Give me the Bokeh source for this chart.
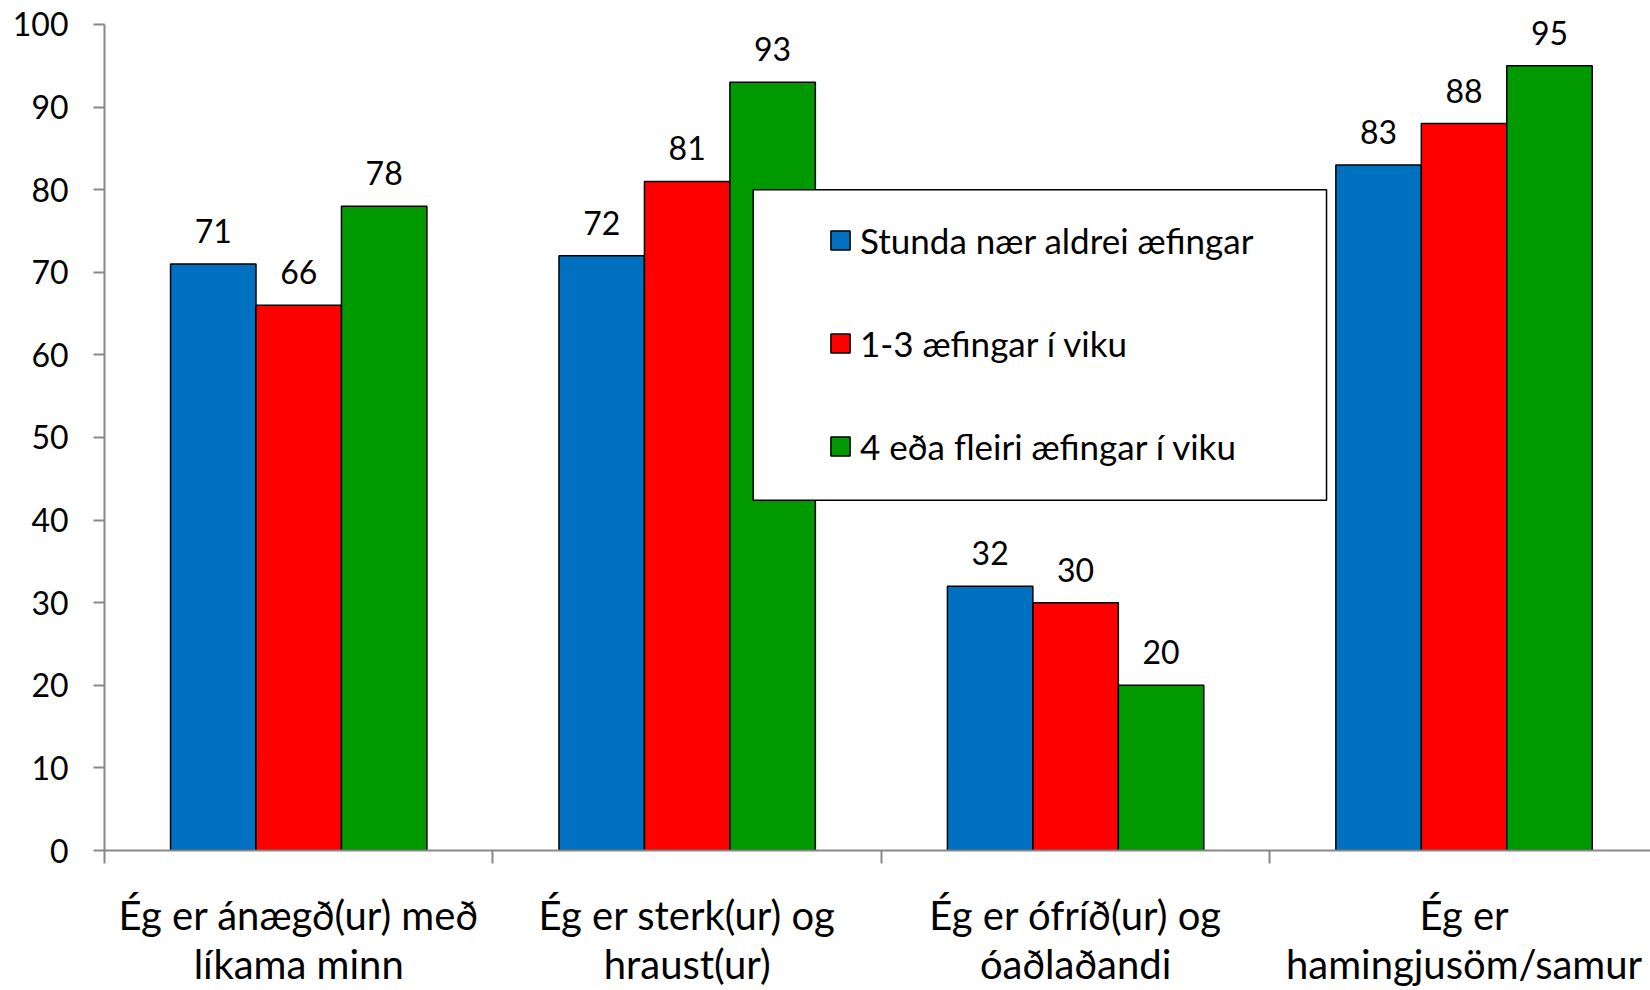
from bokeh.plotting import figure
from bokeh.models import (Range1d, LinearAxis, FixedTicker,
                          ColumnDataSource, LabelSet, Legend, LegendItem, BoxAnnotation)
from bokeh.core.properties import value
from bokeh.transform import dodge
from bokeh.embed import file_html
from bokeh.resources import INLINE

categories = ["Ég er ánægð(ur) með\nlíkama minn",
              "Ég er sterk(ur) og\nhraust(ur)",
              "Ég er ófríð(ur) og\nóaðlaðandi",
              "Ég er\nhamingjusöm/samur"]
series_names = ["Stunda nær aldrei æfingar", "1-3 æfingar í viku", "4 eða fleiri æfingar í viku"]
never = [71, 72, 32, 83]
one_three = [66, 81, 30, 88]
four_plus = [78, 93, 20, 95]
y_ticks = [0, 10, 20, 30, 40, 50, 60, 70, 80, 90, 100]

colors = ["#0070C0", "#FF0000", "#009900"]
offsets = [-0.22, 0.0, 0.22]
FONT = "Lato"

n = len(categories)
pos = [i + 0.5 for i in range(n)]  # category slot centres on the linear x scale

source = ColumnDataSource(dict(pos=pos, cat=categories, s0=never, s1=one_three, s2=four_plus,
                               l0=[str(v) for v in never], l1=[str(v) for v in one_three],
                               l2=[str(v) for v in four_plus]))

# y range extends a little above 100 so the top value label is not clipped;
# the axis line itself is bounded to 0..100
p = figure(x_range=Range1d(0, n - 0.02), y_range=Range1d(0, 102.9),
           width=1650, height=990, output_backend="svg", toolbar_location=None,
           x_axis_location=None, min_border_left=104, min_border_right=0,
           min_border_top=0, min_border_bottom=140)
p.outline_line_color = None
p.xgrid.visible = False
p.ygrid.visible = False
p.background_fill_color = "white"

renderers = []
for i, key in enumerate(["s0", "s1", "s2"]):
    r = p.vbar(x=dodge("pos", offsets[i]), top=key, width=0.22, source=source,
               fill_color=colors[i], line_color="black", line_width=1.5)
    renderers.append(r)
    lab = LabelSet(x=dodge("pos", offsets[i]), y=key, text="l" + str(i),
                   source=source, text_align="center", text_baseline="middle", y_offset=33,
                   text_font=value(FONT), text_font_size=value("32px"), text_color="black")
    p.add_layout(lab)

# y axis
ya = p.yaxis[0]
ya.ticker = FixedTicker(ticks=y_ticks)
ya.bounds = (0, 100)
ya.axis_line_color = "#888888"
ya.axis_line_width = 2
ya.major_tick_line_color = "#888888"
ya.major_tick_line_width = 2
ya.major_tick_out = 11
ya.major_tick_in = 0
ya.minor_tick_line_color = None
ya.major_label_text_font = FONT
ya.major_label_text_font_size = "32px"
ya.major_label_text_color = "black"
ya.major_label_standoff = 25

# x axis: boundary ticks (no labels)
bounds = list(range(n + 1))
tick_axis = LinearAxis(ticker=FixedTicker(ticks=bounds),
                       major_label_overrides={b: "" for b in bounds},
                       major_label_text_font_size="1px", major_label_standoff=0,
                       axis_line_color="#888888", axis_line_width=2,
                       major_tick_line_color="#888888", major_tick_line_width=2,
                       major_tick_out=13, major_tick_in=0, minor_tick_line_color=None)
p.add_layout(tick_axis, "below")
# x axis: category labels
cat_axis = LinearAxis(ticker=FixedTicker(ticks=pos),
                      major_label_overrides={pv: c for pv, c in zip(pos, categories)},
                      axis_line_color=None, major_tick_line_color=None, minor_tick_line_color=None,
                      major_label_text_font=FONT, major_label_text_font_size="40px",
                      major_label_text_color="black", major_label_standoff=21,
                      major_label_text_line_height=1.03)
p.add_layout(cat_axis, "below")

# legend frame
box = BoxAnnotation(left=1.670, right=3.146, bottom=42.4, top=80.0,
                    fill_color="white", fill_alpha=1.0, line_color="black", line_alpha=1.0,
                    line_width=1.5)
p.add_layout(box)

legend = Legend(items=[LegendItem(label=series_names[i], renderers=[renderers[i]]) for i in range(3)],
                location=(724, 383), orientation="vertical", padding=0, spacing=61,
                glyph_width=24, glyph_height=24, label_standoff=8, label_height=32,
                label_text_font=FONT, label_text_font_size="35px", label_text_color="black",
                border_line_color=None, background_fill_alpha=0.0)
p.add_layout(legend)

open("out.html", "w").write(file_html(p, INLINE))
